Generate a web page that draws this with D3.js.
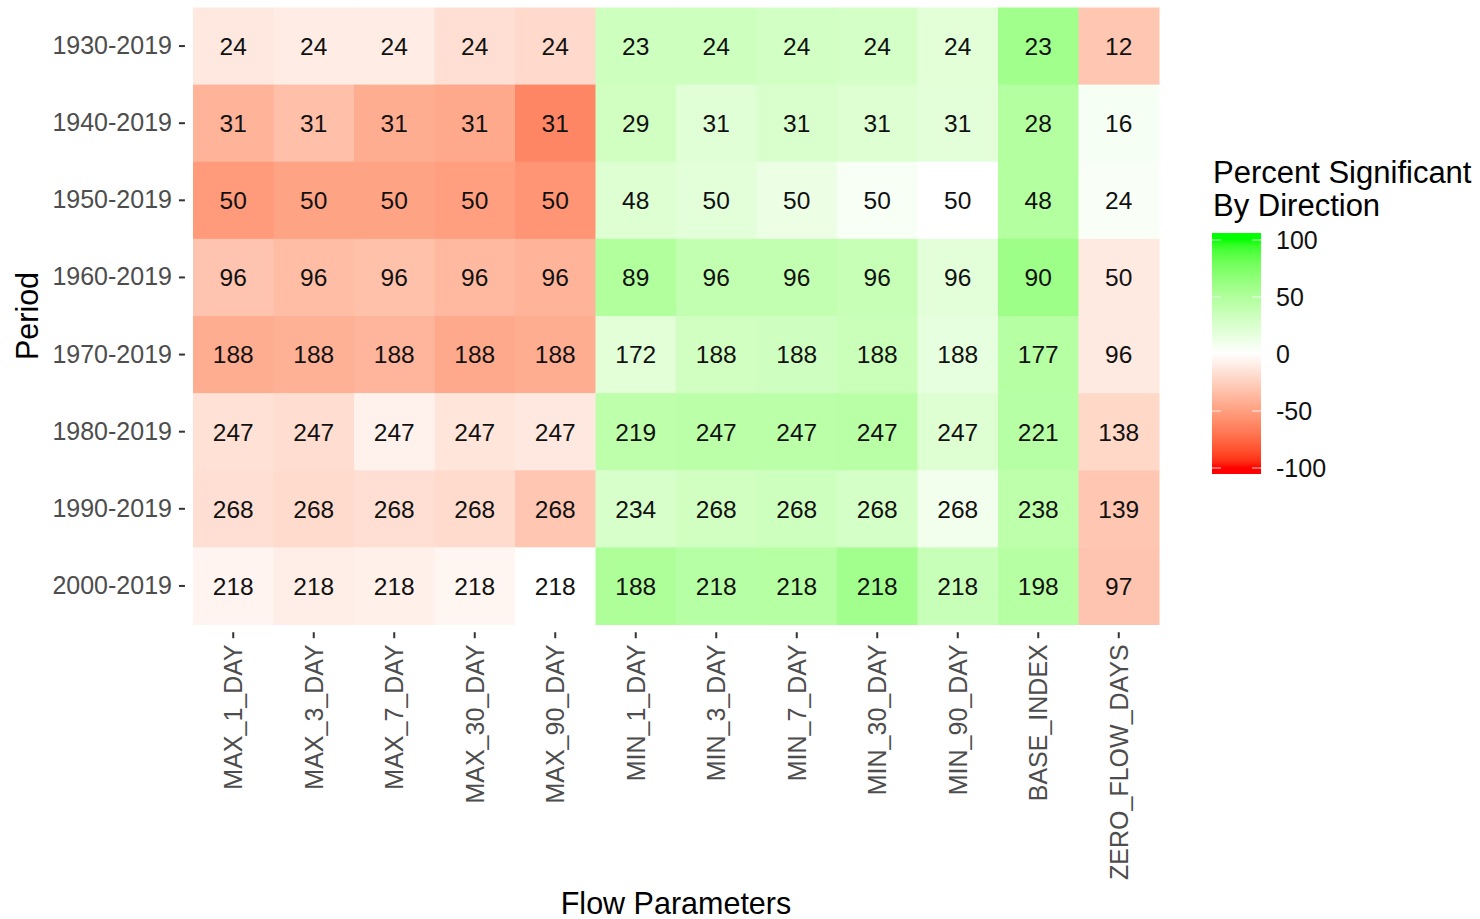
<!DOCTYPE html>
<html>
<head>
<meta charset="utf-8">
<script src="https://cdn.jsdelivr.net/npm/d3@7/dist/d3.min.js"></script>
<style>
  html, body { margin: 0; padding: 0; background: #ffffff; }
  svg { display: block; font-family: "Liberation Sans", Arial, sans-serif; }
</style>
</head>
<body>
<svg id="chart" width="1480" height="919"></svg>
<script>
// Flow parameters (columns) and analysis periods (rows)
const params = ["MAX_1_DAY", "MAX_3_DAY", "MAX_7_DAY", "MAX_30_DAY", "MAX_90_DAY",
                "MIN_1_DAY", "MIN_3_DAY", "MIN_7_DAY", "MIN_30_DAY", "MIN_90_DAY",
                "BASE_INDEX", "ZERO_FLOW_DAYS"];
const periods = ["1930-2019", "1940-2019", "1950-2019", "1960-2019",
                 "1970-2019", "1980-2019", "1990-2019", "2000-2019"];

// Number of stations analysed, one row per period
const stationCounts = [
  [24, 24, 24, 24, 24, 23, 24, 24, 24, 24, 23, 12],
  [31, 31, 31, 31, 31, 29, 31, 31, 31, 31, 28, 16],
  [50, 50, 50, 50, 50, 48, 50, 50, 50, 50, 48, 24],
  [96, 96, 96, 96, 96, 89, 96, 96, 96, 96, 90, 50],
  [188, 188, 188, 188, 188, 172, 188, 188, 188, 188, 177, 96],
  [247, 247, 247, 247, 247, 219, 247, 247, 247, 247, 221, 138],
  [268, 268, 268, 268, 268, 234, 268, 268, 268, 268, 238, 139],
  [218, 218, 218, 218, 218, 188, 218, 218, 218, 218, 198, 97]
];

// Percent of stations with a significant trend, signed by direction
const pctSignificant = [
  [-12, -10, -10, -17, -20, 33, 33, 30, 29, 20, 58, -30],
  [-40, -34, -43, -45, -62, 31, 21, 26, 23, 19, 48, 6],
  [-52, -48, -48, -50, -55, 23, 19, 13, 5, 0, 48, 4],
  [-31, -35, -33, -37, -40, 49, 40, 40, 37, 19, 60, -11],
  [-43, -41, -39, -45, -43, 20, 31, 32, 35, 17, 47, -11],
  [-16, -18, -7, -14, -12, 43, 44, 44, 45, 23, 46, -21],
  [-17, -19, -17, -19, -30, 27, 31, 33, 29, 9, 43, -30],
  [-6, -9, -8, -5, 0, 51, 46, 47, 57, 36, 47, -31]
];

const legendTicks = [100, 50, 0, -50, -100];

const svg = d3.select("#chart");

// Tile extents
const tileLeft = 193, tileRight = 1159, tileTop = 7.5, tileBottom = 624.5;
const padX = (tileRight - tileLeft) / params.length * 0.1;
const padY = (tileBottom - tileTop) / periods.length * 0.1;

const x = d3.scaleBand().domain(params).range([tileLeft, tileRight]).padding(0);
const y = d3.scaleBand().domain(periods).range([tileTop, tileBottom]).padding(0);

const color = d3.scaleLinear()
  .domain([-100, 0, 100])
  .range(["#ff0000", "#ffffff", "#00ff00"])
  .interpolate(d3.interpolateLab);

const cells = [];
periods.forEach((p, i) => params.forEach((f, j) => {
  cells.push({ period: p, param: f, n: stationCounts[i][j], pct: pctSignificant[i][j] });
}));

// Tiles
svg.append("g").selectAll("rect").data(cells).join("rect")
  .attr("x", d => x(d.param))
  .attr("y", d => y(d.period))
  .attr("width", x.bandwidth() + 0.5)
  .attr("height", y.bandwidth() + 0.5)
  .attr("fill", d => color(d.pct));

// Station counts in each tile
svg.append("g").selectAll("text").data(cells).join("text")
  .attr("x", d => x(d.param) + x.bandwidth() / 2)
  .attr("y", d => y(d.period) + y.bandwidth() / 2)
  .attr("dy", "0.36em")
  .attr("text-anchor", "middle")
  .attr("font-size", 24.5)
  .attr("fill", "#111")
  .text(d => d.n);

// Y axis (periods)
const yAxis = d3.axisLeft(y).tickSize(6).tickPadding(7);
const gy = svg.append("g").attr("transform", `translate(${tileLeft - padX},0)`).call(yAxis);
gy.select(".domain").remove();
gy.selectAll(".tick line").attr("stroke", "#333").attr("stroke-width", 2);
gy.selectAll(".tick text").attr("font-size", 25).attr("fill", "#4d4d4d")
  .attr("font-family", "Liberation Sans, Arial, sans-serif");

// X axis (flow parameters), labels rotated
const xAxis = d3.axisBottom(x).tickSize(6).tickPadding(6);
const gx = svg.append("g").attr("transform", `translate(0,${tileBottom + padY})`).call(xAxis);
gx.select(".domain").remove();
gx.selectAll(".tick line").attr("stroke", "#333").attr("stroke-width", 2);
gx.selectAll(".tick text")
  .attr("font-size", 25).attr("fill", "#4d4d4d")
  .attr("font-family", "Liberation Sans, Arial, sans-serif")
  .attr("transform", "rotate(-90)")
  .attr("text-anchor", "end")
  .attr("x", -12).attr("y", 0).attr("dy", "0.36em");

// Axis titles
svg.append("text")
  .attr("x", (tileLeft + tileRight) / 2).attr("y", 914)
  .attr("text-anchor", "middle").attr("font-size", 30.5).attr("fill", "#000")
  .text("Flow Parameters");
svg.append("text")
  .attr("transform", `translate(38,${(tileTop + tileBottom) / 2}) rotate(-90)`)
  .attr("text-anchor", "middle").attr("font-size", 30.5).attr("fill", "#000")
  .text("Period");

// Legend: colour bar
const barX = 1212, barW = 49, barTop = 233, barBottom = 474;
const ly = d3.scaleLinear().domain([-100, 100]).range([468, 240]);

const defs = svg.append("defs");
const grad = defs.append("linearGradient").attr("id", "legendGrad")
  .attr("x1", 0).attr("y1", 0).attr("x2", 0).attr("y2", 1);
d3.range(0, 41).forEach(k => {
  const yy = barTop + (barBottom - barTop) * k / 40;
  const v = Math.max(-100, Math.min(100, ly.invert(yy)));
  grad.append("stop").attr("offset", (k / 40 * 100) + "%").attr("stop-color", color(v));
});
svg.append("rect").attr("x", barX).attr("y", barTop)
  .attr("width", barW).attr("height", barBottom - barTop)
  .attr("fill", "url(#legendGrad)");

const lg = svg.append("g");
legendTicks.forEach(v => {
  lg.append("line").attr("x1", barX).attr("x2", barX + 9)
    .attr("y1", ly(v)).attr("y2", ly(v)).attr("stroke", "#fff").attr("stroke-width", 1).attr("opacity", 0.8);
  lg.append("line").attr("x1", barX + barW - 9).attr("x2", barX + barW)
    .attr("y1", ly(v)).attr("y2", ly(v)).attr("stroke", "#fff").attr("stroke-width", 1).attr("opacity", 0.8);
  lg.append("text").attr("x", 1276).attr("y", ly(v)).attr("dy", "0.36em")
    .attr("font-size", 25).attr("fill", "#111").text(v);
});

svg.append("text").attr("x", 1213).attr("y", 183)
  .attr("font-size", 31).attr("fill", "#000").text("Percent Significant");
svg.append("text").attr("x", 1213).attr("y", 216)
  .attr("font-size", 31).attr("fill", "#000").text("By Direction");
</script>
</body>
</html>
